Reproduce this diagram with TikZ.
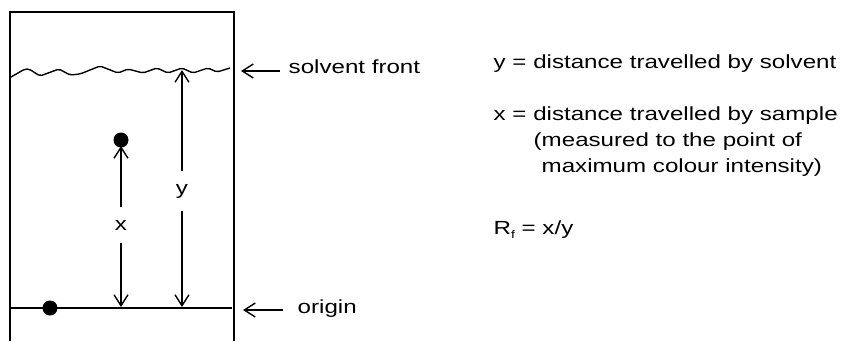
\documentclass[tikz,border=0pt]{standalone}
\usepackage{fontspec}
\setmainfont{Liberation Sans}[FakeStretch=1.27]
\usetikzlibrary{arrows.meta}
\begin{document}
\begin{tikzpicture}[x=1pt,y=-1pt, line width=1.4pt,
  every node/.style={font=\fontsize{19}{22}\selectfont, inner sep=0pt},
  arr/.style={-{Straight Barb[length=11pt,width=14pt]}},
  dot/.style={circle, fill=black, minimum size=15pt, inner sep=0pt},
  lbl/.style={anchor=base west},
  gaplbl/.style={anchor=base, inner xsep=2pt, inner ysep=12pt}]
\useasboundingbox (0,0) rectangle (844,341);
% plate
\draw (10,341) -- (10,12) -- (234,12) -- (234,341);
% solvent front
\draw[rounded corners=2pt] (11,77) -- (25,69) -- (29,69) -- (40,76) -- (59,69) -- (70,75) -- (80,74) -- (100,66) -- (118,73) -- (128,69) -- (143,73) -- (157,68) -- (168,73) -- (182,68) -- (193,73) -- (208,68) -- (217,72) -- (230,68);
% origin line
\draw (10,308) -- (232,308);
\node[dot] (start) at (50,308) {};
% sample spot
\coordinate (xb) at (121,307);
\coordinate (yt) at (182,70);
\coordinate (yb) at (182,307);
\node[gaplbl] (xl) at (121,230) {x};
\node[gaplbl] (yl) at (182,194) {y};
\draw[arr] (xl.north) -- (121,146);
\node[dot] (sample) at (121,140) {};
\draw[arr] (xl.south) -- (xb);
\draw[arr] (yl.north) -- (yt);
\draw[arr] (yl.south) -- (yb);
% side labels
\node[lbl] (sf) at (288,73) {solvent front};
\coordinate (sfa) at (280,71);
\coordinate (sft) at (241,71);
\draw[arr] (sfa) -- (sft);
\node[lbl] (org) at (297,313) {origin};
\coordinate (ora) at (283,310);
\coordinate (ort) at (243,310);
\draw[arr] (ora) -- (ort);
% legend
\node[lbl] (l1) at (493,68) {y = distance travelled by solvent};
\node[lbl] (l2) at (493,120) {x = distance travelled by sample};
\node[lbl] (l3) at (533,146) {(measured to the point of};
\node[lbl] (l4) at (541,172) {maximum colour intensity)};
\node[lbl] (l5) at (493,234) {R\raisebox{-4pt}{\fontsize{11}{11}\selectfont f} = x/y};
\end{tikzpicture}
\end{document}
